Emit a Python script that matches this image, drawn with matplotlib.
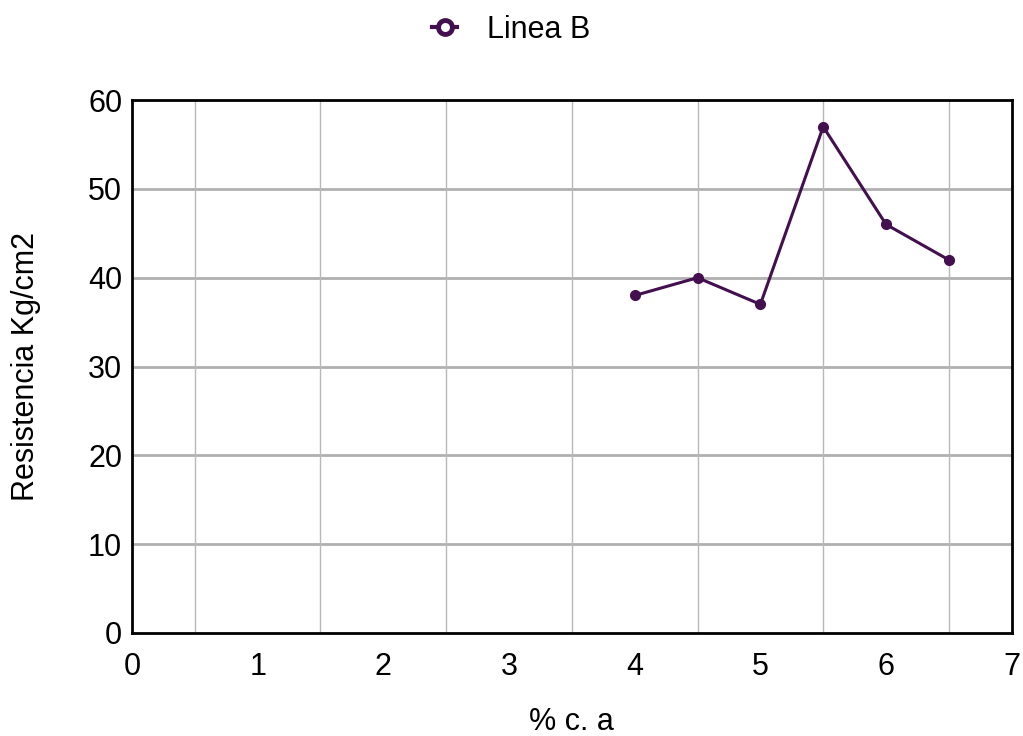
import matplotlib
matplotlib.use('Agg')
from matplotlib import pyplot as plt
from matplotlib.lines import Line2D

plt.rcParams['font.family'] = ['Liberation Sans', 'DejaVu Sans']

# data
pct_ca = [4, 4.5, 5, 5.5, 6, 6.5]
resistencia = [38, 40, 37, 57, 46, 42]
x_ticks = [0, 1, 2, 3, 4, 5, 6, 7]
y_ticks = [0, 10, 20, 30, 40, 50, 60]
x_grid = [0.5, 1.5, 2.5, 3.5, 4.5, 5.5, 6.5]

color = '#440f4f'

fig = plt.figure(figsize=(10.23, 7.36), dpi=100)
ax = fig.add_axes([0.129, 0.140, 0.860, 0.724])

ax.plot(pct_ca, resistencia, color=color, linewidth=2.2, marker='o',
        markersize=7, zorder=3)

ax.set_xlim(0, 7)
ax.set_ylim(0, 60)
ax.set_xticks(x_ticks)
ax.set_yticks(y_ticks)

# grid: horizontal on the ticks, vertical on the half steps
for y in y_ticks[1:-1]:
    ax.axhline(y, color='#b0b0b0', linewidth=2, zorder=1)
for x in x_grid:
    ax.axvline(x, color='#b8b8b8', linewidth=1, zorder=1)

for s in ax.spines.values():
    s.set_linewidth(2)
    s.set_color('black')
    s.set_zorder(4)

ax.tick_params(axis='x', length=0, labelsize=22, pad=14)
ax.tick_params(axis='y', length=0, labelsize=22, pad=7)
ax.set_xlabel('% c. a', fontsize=22, labelpad=18)
ax.set_ylabel('Resistencia Kg/cm2', fontsize=22, labelpad=34)

handle = Line2D([], [], color=color, linewidth=3, marker='o', markersize=10,
                markerfacecolor='white', markeredgewidth=3.5)
fig.legend([handle], ['Linea B'], loc='upper center', bbox_to_anchor=(0.5, 1.017),
           frameon=False, fontsize=22, handlelength=0.8, handletextpad=1.0)

fig.savefig('out.png', dpi=100)
